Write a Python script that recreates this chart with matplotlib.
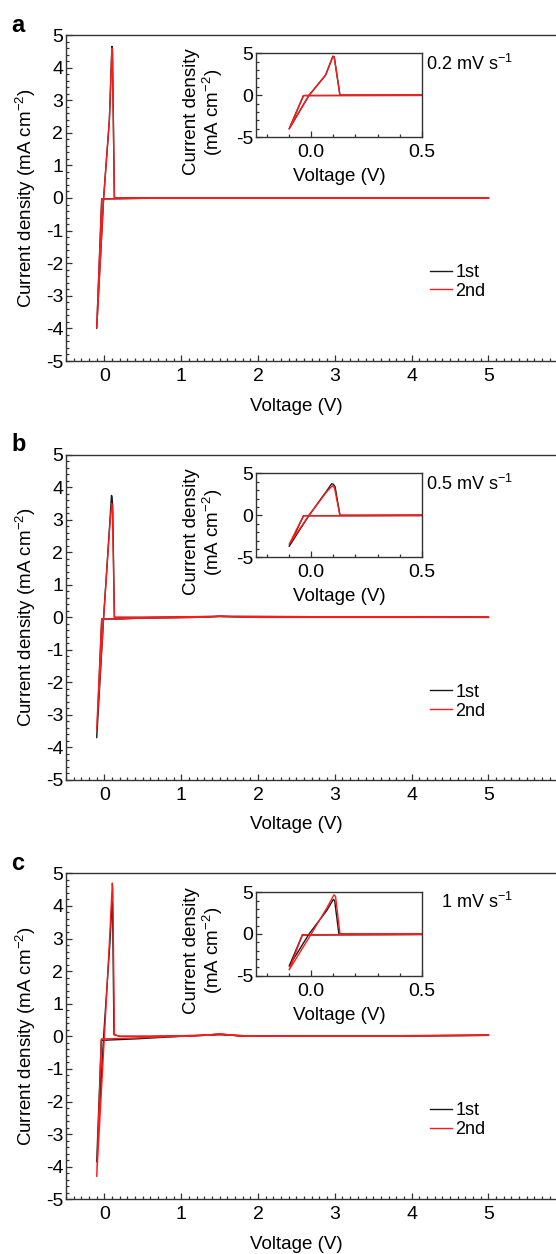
"""Cyclic voltammograms (1st / 2nd cycle) at three scan rates, with zoomed insets"""
import matplotlib
matplotlib.use('Agg')
import matplotlib.pyplot as plt
from matplotlib.ticker import MultipleLocator, FormatStrFormatter, FixedLocator

plt.rcParams['font.family'] = ['Liberation Sans', 'DejaVu Sans']
plt.rcParams['mathtext.fontset'] = 'custom'
plt.rcParams['mathtext.rm'] = 'Liberation Sans'
plt.rcParams['axes.unicode_minus'] = False

# ---- data (voltage in V, current density in mA cm^-2) ----
# panel a, 0.2 mV/s
v_a1 = [5.0, 2.0, 0.5, -0.035, -0.1, -0.01, 0.065, 0.098, 0.104, 0.13, 0.5, 2.0, 5.0]
j_a1 = [0.0, 0.0, -0.01, -0.03, -4.0, 0.0, 2.4, 4.65, 4.6, 0.0, 0.0, 0.0, 0.0]
v_a2 = [5.0, 2.0, 0.5, -0.035, -0.1, -0.01, 0.065, 0.098, 0.104, 0.13, 0.5, 2.0, 5.0]
j_a2 = [0.0, 0.0, -0.01, -0.03, -3.98, 0.0, 2.4, 4.6, 4.55, 0.0, 0.0, 0.0, 0.0]

# panel b, 0.5 mV/s
v_b1 = [5.0, 2.0, 1.5, 1.2, 0.4, 0.2, -0.035, -0.1, -0.01, 0.07, 0.092, 0.1, 0.108, 0.13, 0.5, 1.5, 5.0]
j_b1 = [0.0, 0.0, 0.03, 0.0, -0.03, -0.05, -0.05, -3.7, 0.0, 2.9, 3.75, 3.7, 3.4, 0.0, 0.0, 0.03, 0.0]
v_b2 = [5.0, 2.0, 1.5, 1.2, 0.4, 0.2, -0.035, -0.1, -0.01, 0.07, 0.095, 0.105, 0.13, 0.5, 1.5, 5.0]
j_b2 = [0.0, 0.0, 0.03, 0.0, -0.03, -0.05, -0.05, -3.45, 0.0, 2.8, 3.5, 3.3, 0.0, 0.0, 0.03, 0.0]

# panel c, 1 mV/s
v_c1 = [5.0, 2.0, 1.5, 1.0, 0.4, 0.0, -0.04, -0.1, -0.01, 0.07, 0.1, 0.106, 0.125, 0.2, 0.6, 1.3, 1.5, 1.8, 3.0, 5.0]
j_c1 = [0.03, 0.0, 0.05, 0.0, -0.08, -0.12, -0.12, -3.85, 0.0, 2.8, 4.15, 4.0, 0.05, 0.0, 0.0, 0.03, 0.07, 0.0, 0.0, 0.03]
v_c2 = [5.0, 2.0, 1.5, 1.0, 0.4, 0.0, -0.04, -0.1, 0.0, 0.07, 0.103, 0.11, 0.13, 0.2, 0.6, 1.3, 1.5, 1.8, 3.0, 5.0]
j_c2 = [0.03, 0.0, 0.05, 0.0, -0.05, -0.08, -0.08, -4.3, 0.0, 3.1, 4.7, 4.5, 0.05, 0.0, 0.0, 0.03, 0.08, 0.0, 0.0, 0.03]

panel_letters = ['a', 'b', 'c']
rate_labels = ['0.2 mV s$^{-1}$', '0.5 mV s$^{-1}$', '1 mV s$^{-1}$']
cycle_labels = ['1st', '2nd']
main_xticks = [0, 1, 2, 3, 4, 5]

BLACK = '#1a1a1a'
RED = '#ff1a1a'
SPINE = '#333333'

W, H = 556, 1254
fig = plt.figure(figsize=(W / 100, H / 100), dpi=100)


def fx(px):
    return px / W


def fy(py):
    return 1 - py / H


def style_axes(ax, size, pad):
    for s in ax.spines.values():
        s.set_color(SPINE)
        s.set_linewidth(1.0)
    ax.tick_params(which='both', direction='in', color=SPINE, width=0.9,
                   labelsize=size, top=False, right=False)
    ax.tick_params(which='major', length=4)
    ax.tick_params(which='minor', length=2.2)
    ax.tick_params(axis='x', pad=pad)
    ax.tick_params(axis='y', pad=2)


# pixel layout of each panel: (axes top, axes bottom, inset top, inset bottom)
layout = [(35, 361, 53.3, 137.3), (454.7, 780, 473.3, 557.3), (873.3, 1199.3, 892.3, 975.7)]
curves = [(v_a1, j_a1, v_a2, j_a2), (v_b1, j_b1, v_b2, j_b2), (v_c1, j_c1, v_c2, j_c2)]

for i, (top, bot, itop, ibot) in enumerate(layout):
    v1, j1, v2, j2 = curves[i]

    # main axes (right edge runs past the figure, as in the original crop)
    ax = fig.add_axes([fx(66), fy(bot), fx(499.2), (bot - top) / H])
    ax.plot(v1, j1, color=BLACK, lw=1.0, label=cycle_labels[0])
    ax.plot(v2, j2, color=RED, lw=1.0, label=cycle_labels[1])
    ax.set_xlim(-0.5, 6.0)
    ax.set_ylim(-5, 5)
    ax.xaxis.set_major_locator(FixedLocator(main_xticks))
    ax.xaxis.set_minor_locator(MultipleLocator(0.1))
    ax.yaxis.set_major_locator(MultipleLocator(1))
    ax.yaxis.set_minor_locator(MultipleLocator(0.2))
    style_axes(ax, 14, 5)
    ax.set_xlabel('Voltage (V)', fontsize=13.5)
    ax.xaxis.set_label_coords((296 - 66) / 499.2, -0.112)
    ax.set_ylabel('Current density (mA cm$^{-2}$)', fontsize=13.5)
    ax.yaxis.set_label_coords(-0.056, 0.5)
    ax.legend(loc='upper left', bbox_to_anchor=(fx(430), fy(top + 229)),
              bbox_transform=fig.transFigure, frameon=False, fontsize=13,
              handlelength=1.2, handletextpad=0.2, borderpad=0,
              borderaxespad=0, labelspacing=0.1)

    fig.text(fx(11), fy(top - 10), panel_letters[i], fontsize=17,
             fontweight='bold', ha='left', va='center')
    fig.text(fx(513), fy(top + 29), rate_labels[i], fontsize=13,
             ha='right', va='center')

    # inset: zoom on the low-voltage region
    ins = fig.add_axes([fx(256), fy(ibot), fx(165.7), (ibot - itop) / H])
    ins.plot(v1, j1, color=BLACK, lw=1.0)
    ins.plot(v2, j2, color=RED, lw=1.0)
    ins.set_xlim(-0.25, 0.5)
    ins.set_ylim(-5, 5)
    ins.xaxis.set_major_locator(MultipleLocator(0.5))
    ins.xaxis.set_minor_locator(MultipleLocator(0.1))
    ins.xaxis.set_major_formatter(FormatStrFormatter('%.1f'))
    ins.yaxis.set_major_locator(MultipleLocator(5))
    ins.yaxis.set_minor_locator(MultipleLocator(1))
    style_axes(ins, 14, 5)
    ins.set_xlabel('Voltage (V)', fontsize=13.5, labelpad=5)
    ins.set_ylabel('Current density\n(mA cm$^{-2}$)', fontsize=13.5,
                   linespacing=1.0)
    ins.yaxis.set_label_coords(-0.19, 0.3)

fig.savefig('out.png', dpi=100)
